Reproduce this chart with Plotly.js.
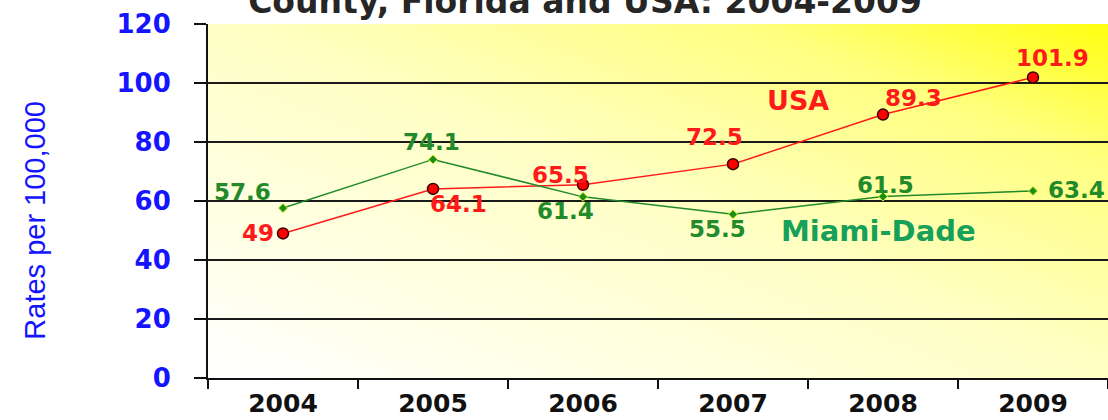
<!DOCTYPE html>
<html>
<head>
<meta charset="utf-8">
<script src="https://cdn.plot.ly/plotly-3.0.1.min.js"></script>
<style>html,body{margin:0;padding:0;background:#fff;}#chart{width:1108px;height:420px;}</style>
</head>
<body>
<div id="chart"></div>
<script>
const years = ['2004', '2005', '2006', '2007', '2008', '2009'];
const usaRates = [49, 64.1, 65.5, 72.5, 89.3, 101.9];
const miamiRates = [57.6, 74.1, 61.4, 55.5, 61.5, 63.4];
const yTickValues = [0, 20, 40, 60, 80, 100, 120];
const seriesNames = ['USA', 'Miami-Dade'];
const chartTitle = 'County, Florida and USA: 2004-2009';
const yTitle = 'Rates per 100,000';

// label placement (pixel offsets from each point)
const usaOffsets = [[-25, 0], [25, -15], [-23, 10], [-19, 27], [30, 17], [19, 19]];
const miamiOffsets = [[-41, 16], [-2, 17], [-18, -14], [-16, -15], [2, 12], [43, 1]];

const RED = '#ff1a1a';
const GREEN = '#238a2a';
const BLUE = '#1414ff';
const FONT = 'DejaVu Sans';

const gradSvg = "<svg xmlns='http://www.w3.org/2000/svg' width='100' height='100' viewBox='0 0 100 100' preserveAspectRatio='none'>" +
  "<defs><linearGradient id='g' x1='0' y1='1' x2='1' y2='0'>" +
  "<stop offset='0' stop-color='#ffffff'/><stop offset='0.5' stop-color='#ffffc6'/>" +
  "<stop offset='0.8' stop-color='#ffff80'/><stop offset='1' stop-color='#ffff10'/>" +
  "</linearGradient></defs><rect width='100' height='100' fill='url(#g)'/></svg>";
const gradUri = 'data:image/svg+xml;charset=utf-8,' + encodeURIComponent(gradSvg);

const traces = [
  {
    x: years, y: usaRates, name: seriesNames[0], type: 'scatter', mode: 'lines+markers',
    line: {color: RED, width: 1.5},
    marker: {symbol: 'circle', size: 11, color: '#ff0000', line: {color: '#3a0000', width: 1.5}},
    hoverinfo: 'x+y'
  },
  {
    x: years, y: miamiRates, name: seriesNames[1], type: 'scatter', mode: 'lines+markers',
    line: {color: GREEN, width: 1.5},
    marker: {symbol: 'diamond', size: 7, color: '#1c8c1c', line: {color: '#d8ff20', width: 1}},
    hoverinfo: 'x+y'
  }
];

const annotations = [];
years.forEach((yr, i) => {
  // i is the category index of `yr` on the category x-axis
  annotations.push({
    x: i, y: usaRates[i], xref: 'x', yref: 'y', text: String(usaRates[i]),
    showarrow: false, xanchor: 'center', yanchor: 'middle',
    xshift: usaOffsets[i][0], yshift: usaOffsets[i][1],
    font: {family: FONT, size: 23, color: RED, weight: 'bold'}
  });
  annotations.push({
    x: i, y: miamiRates[i], xref: 'x', yref: 'y', text: String(miamiRates[i]),
    showarrow: false, xanchor: 'center', yanchor: 'middle',
    xshift: miamiOffsets[i][0], yshift: miamiOffsets[i][1],
    font: {family: FONT, size: 23, color: GREEN, weight: 'bold'}
  });
});
annotations.push({
  x: 0.656, y: 0.785, xref: 'paper', yref: 'paper', text: seriesNames[0], showarrow: false,
  xanchor: 'center', yanchor: 'middle', font: {family: FONT, size: 27, color: RED, weight: 'bold'}
});
annotations.push({
  x: 0.745, y: 0.415, xref: 'paper', yref: 'paper', text: seriesNames[1], showarrow: false,
  xanchor: 'center', yanchor: 'middle', font: {family: FONT, size: 29, color: '#16a05a', weight: 'bold'}
});
annotations.push({
  x: -0.192, y: 0.445, xref: 'paper', yref: 'paper', text: yTitle, showarrow: false, textangle: -90,
  xanchor: 'center', yanchor: 'middle', font: {family: 'Liberation Sans', size: 29, color: BLUE}
});

const layout = {
  width: 1108, height: 420,
  margin: {l: 208, r: 0, t: 24, b: 42, pad: 0},
  paper_bgcolor: '#ffffff',
  plot_bgcolor: 'rgba(0,0,0,0)',
  showlegend: false,
  title: {
    text: chartTitle, xref: 'container', yref: 'container', x: 0.528, y: 0.996,
    xanchor: 'center', yanchor: 'middle',
    font: {family: FONT, size: 33, color: '#262626', weight: 'bold'}
  },
  images: [{
    source: gradUri, xref: 'paper', yref: 'paper', x: 0, y: 1, sizex: 1, sizey: 1,
    xanchor: 'left', yanchor: 'top', sizing: 'stretch', layer: 'below'
  }],
  xaxis: {
    type: 'category', categoryarray: years, range: [-0.5, 5.5], autorange: false,
    tickson: 'boundaries', ticks: 'outside', ticklen: 9, tickwidth: 2, tickcolor: '#111',
    showline: true, linecolor: '#111', linewidth: 2, showgrid: false, zeroline: false,
    tickfont: {family: FONT, size: 25, color: '#111', weight: 'bold'},
    ticklabelstandoff: 2, fixedrange: true
  },
  yaxis: {
    range: [0, 120], autorange: false, tickvals: yTickValues, ticktext: yTickValues.map(String),
    ticks: 'outside', ticklen: 12, tickwidth: 2, tickcolor: '#111',
    showline: true, linecolor: '#111', linewidth: 2,
    showgrid: true, gridcolor: '#1a1a1a', gridwidth: 1.5, zeroline: false,
    tickfont: {family: FONT, size: 26, color: BLUE, weight: 'bold'},
    ticklabelstandoff: 18, fixedrange: true
  },
  annotations: annotations
};

Plotly.newPlot('chart', traces, layout, {displayModeBar: false, staticPlot: true});
</script>
</body>
</html>
